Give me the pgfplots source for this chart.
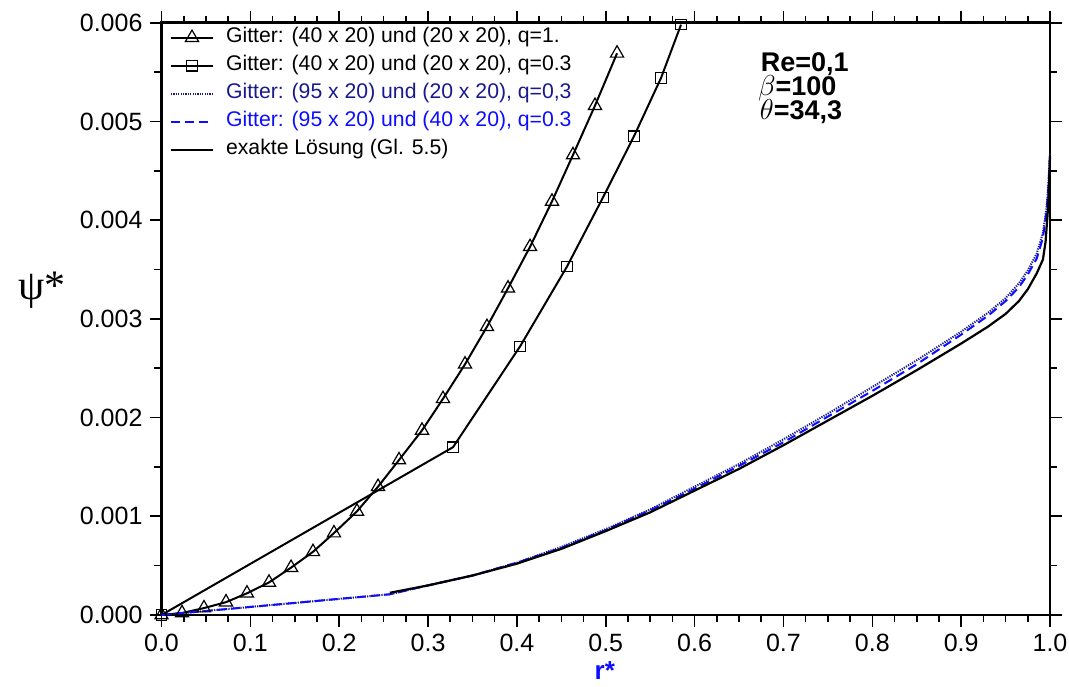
\documentclass[border=0pt]{standalone}
\usepackage{pgfplots}
\pgfplotsset{compat=1.18}
\usepackage{fontspec}
\setmainfont{Liberation Sans}
\newfontfamily\greekserif{Liberation Serif}
\definecolor{darkblue}{rgb}{0.1,0.1,0.55}
\definecolor{myblue}{rgb}{0.05,0.05,1}

\pgfplotstableread{
x y
0 0
0.0231 0.00002
0.0478 0.00007
0.0726 0.00013
0.0962 0.00022
0.1210 0.00033
0.1458 0.00048
0.1705 0.00064
0.1941 0.00083
0.2200 0.00105
0.2437 0.00130
0.2673 0.00157
0.2932 0.00187
0.3168 0.00219
0.3416 0.00254
0.3663 0.00292
0.3900 0.00331
0.4148 0.00373
0.4395 0.00419
0.4631 0.00466
0.4879 0.00516
0.5127 0.00569
}\tri

\pgfplotstableread{
x y
0 0
0.3281 0.00170
0.4035 0.00272
0.4564 0.00353
0.4969 0.00423
0.5318 0.00485
0.5622 0.00544
0.5847 0.00598
}\sq

\pgfplotstableread{
x y
0 0
0.257 0.00021
0.30 0.00030
0.35 0.00040
0.40 0.00053
0.45 0.00069
0.50 0.00087
0.55 0.00107
0.60 0.00130
0.65 0.00153
0.70 0.00178
0.75 0.00204
0.80 0.00231
0.85 0.00258
0.90 0.00287
0.93 0.00306
0.95 0.00321
0.965 0.00336
0.975 0.00349
0.985 0.00366
0.992 0.00387
0.996 0.00412
0.998 0.00434
1.0 0.00467
}\dotted

\pgfplotstableread{
x y
0 0
0.257 0.00021
0.30 0.00030
0.35 0.00040
0.40 0.00053
0.45 0.00068
0.50 0.00086
0.55 0.00106
0.60 0.00128
0.65 0.00151
0.70 0.00175
0.75 0.00201
0.80 0.00227
0.85 0.00254
0.90 0.00284
0.93 0.00303
0.95 0.00318
0.965 0.00332
0.975 0.00345
0.985 0.00361
0.992 0.00382
0.996 0.00408
0.998 0.00430
1.0 0.00466
}\dashed

\pgfplotstableread{
x y
0.257 0.000225
0.30 0.00030
0.35 0.00040
0.40 0.00052
0.45 0.00067
0.50 0.00085
0.55 0.00104
0.60 0.00126
0.65 0.00148
0.70 0.00172
0.75 0.00197
0.80 0.00222
0.85 0.00248
0.90 0.00275
0.93 0.00292
0.95 0.00305
0.965 0.00318
0.975 0.00330
0.985 0.00346
0.992 0.00360
0.995 0.00378
0.998 0.00415
1.0 0.00465
}\exact

\begin{document}
\begin{tikzpicture}
\begin{axis}[
  name=ax,
  scale only axis, width=444.25pt, height=296.15pt,
  xmin=0, xmax=1, ymin=0, ymax=0.006,
  clip=false,
  axis line style={line width=1.4pt},
  tick align=outside,
  xtick={0,0.1,0.2,0.3,0.4,0.5,0.6,0.7,0.8,0.9,1.0},
  ytick={0,0.001,0.002,0.003,0.004,0.005,0.006},
  minor x tick num=3, minor y tick num=1,
  major tick length=6pt, minor tick length=3.5pt,
  every tick/.style={black, line width=0.8pt},
  xticklabel pos=left, yticklabel pos=left,
  tick label style={font=\fontsize{12.5}{14}\selectfont},
  /pgf/number format/assume math mode=true,
  xticklabel style={/pgf/number format/.cd, fixed, fixed zerofill, precision=1},
  yticklabel style={/pgf/number format/.cd, fixed, fixed zerofill, precision=3},
  scaled y ticks=false, scaled x ticks=false,
  legend image code/.code={\draw[mark repeat=2,mark phase=2,#1] plot coordinates {(0pt,0pt)(10.5pt,0pt)(21pt,0pt)};},
  legend style={at={(0.009,0.999)}, anchor=north west, draw=none, fill=none,
    inner sep=0pt, font=\fontsize{10.6}{12}\selectfont, row sep=0pt,
    nodes={inner sep=2pt, text height=7.5pt, text depth=2.5pt},
    /tikz/every odd column/.append style={column sep=4pt}},
  legend cell align=left,
]
\addplot[black, line width=1pt, mark=triangle, mark size=3.8pt,
  mark options={solid, fill=white, line width=0.6pt}] table {\tri};
\addlegendentry{Gitter: (40 x 20) und (20 x 20), q=1.}
\addplot[black, line width=1pt, mark=square, mark size=2.6pt,
  mark options={solid, fill=white, line width=0.6pt}] table {\sq};
\addlegendentry{Gitter: (40 x 20) und (20 x 20), q=0.3}
\addplot[darkblue, line width=1pt, dash pattern=on 0.6pt off 0.6pt] table {\dotted};
\addlegendentry{\textcolor{darkblue}{Gitter: (95 x 20) und (20 x 20), q=0,3}}
\addplot[myblue, line width=1pt, dash pattern=on 4.5pt off 2.5pt] table {\dashed};
\addlegendentry{\textcolor{myblue}{Gitter: (95 x 20) und (40 x 20), q=0.3}}
\addplot[black, line width=1.1pt] table {\exact};
\addlegendentry{exakte Lösung (Gl. 5.5)}

\node[anchor=base west, inner sep=0pt, text height=9.6pt, text depth=0pt, font=\fontsize{13.5}{14}\selectfont\bfseries] at (axis cs:0.674,0.005501) {Re=0,1};
\node[anchor=base west, inner sep=0pt, text height=9.6pt, text depth=0pt, font=\fontsize{13.5}{14}\selectfont\bfseries] at (axis cs:0.671,0.005258) {$\beta$=100};
\node[anchor=base west, inner sep=0pt, text height=9.6pt, text depth=0pt, font=\fontsize{13.5}{14}\selectfont\bfseries] at (axis cs:0.673,0.005015) {$\theta$=34,3};
\node[font=\greekserif\fontsize{21}{22}\selectfont] at (rel axis cs:-0.1345,0.549) {ψ*};
\node[font=\fontsize{13}{14}\selectfont\bfseries, text=myblue] at (rel axis cs:0.499,-0.094) {r*};
\end{axis}
\pgfresetboundingbox
\path[use as bounding box] ([shift={(-80.75pt,-35.5pt)}]ax.south west) rectangle ([shift={(453.75pt,307.5pt)}]ax.south west);
\end{tikzpicture}
\end{document}
